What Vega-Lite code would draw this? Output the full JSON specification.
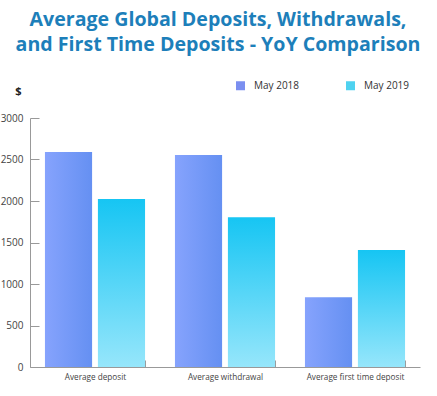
{
  "$schema": "https://vega.github.io/schema/vega-lite/v6.json",
  "width": 390,
  "height": 249,
  "autosize": "none",
  "padding": {"left": 30, "top": 118, "right": 17, "bottom": 29},
  "background": "white",
  "title": {
    "text": ["Average Global Deposits, Withdrawals,", "and First Time Deposits - YoY Comparison"],
    "font": "Open Sans",
    "fontSize": 19.6,
    "fontWeight": "bold",
    "color": "#1d7fba",
    "anchor": "middle",
    "frame": "group",
    "offset": 24,
    "dx": -7,
    "lineHeight": 25
  },
  "config": {
    "view": {"stroke": null},
    "font": "Open Sans"
  },
  "data": {
    "values": [
      {"metric": "Average deposit", "period": "May 2018", "value": 2590},
      {"metric": "Average deposit", "period": "May 2019", "value": 2025},
      {"metric": "Average withdrawal", "period": "May 2018", "value": 2555},
      {"metric": "Average withdrawal", "period": "May 2019", "value": 1805},
      {"metric": "Average first time deposit", "period": "May 2018", "value": 840},
      {"metric": "Average first time deposit", "period": "May 2019", "value": 1410}
    ]
  },
  "encoding": {
    "x": {
      "field": "metric",
      "type": "nominal",
      "sort": ["Average deposit", "Average withdrawal", "Average first time deposit"],
      "scale": {"paddingInner": 0.23, "paddingOuter": 0.115},
      "axis": {
        "title": null,
        "labelAngle": 0,
        "labelFontSize": 8.2,
        "labelColor": "#444",
        "labelPadding": 13,
        "tickBand": "extent",
        "tickSize": -7,
        "tickColor": "#999",
        "domainColor": "#999"
      }
    },
    "xOffset": {
      "field": "period",
      "type": "nominal",
      "scale": {"domain": ["May 2018", "May 2019"], "paddingInner": 0.11}
    },
    "y": {
      "field": "value",
      "type": "quantitative",
      "scale": {"domain": [0, 3000]},
      "axis": {
        "values": [0, 500, 1000, 1500, 2000, 2500, 3000],
        "format": "d",
        "title": "$",
        "titleAngle": 0,
        "titleX": -12,
        "titleY": -22,
        "titleFontSize": 11,
        "titleFontWeight": "bold",
        "titleColor": "#222",
        "grid": false,
        "labelFontSize": 10,
        "labelColor": "#444",
        "tickSize": -9,
        "tickColor": "#999",
        "domainColor": "#999",
        "labelPadding": 16
      }
    }
  },
  "layer": [
    {
      "mark": {"type": "bar", "opacity": 0},
      "encoding": {
        "color": {
          "field": "period",
          "type": "nominal",
          "scale": {"domain": ["May 2018", "May 2019"], "range": ["#7b8ff0", "#4fd2f0"]},
          "legend": {
            "title": null,
            "orient": "none",
            "legendX": 205,
            "legendY": -38,
            "direction": "horizontal",
            "symbolType": "square",
            "symbolSize": 81,
            "symbolOpacity": 1,
            "labelFontSize": 10,
            "labelColor": "#333",
            "columnPadding": 45,
            "labelOffset": 8
          }
        }
      }
    },
    {
      "transform": [{"filter": "datum.period === 'May 2018'"}],
      "mark": {
        "type": "bar",
        "color": {
          "gradient": "linear",
          "x1": 0, "x2": 1, "y1": 0, "y2": 0,
          "stops": [{"offset": 0, "color": "#86a3fd"}, {"offset": 1, "color": "#6590f2"}]
        }
      }
    },
    {
      "transform": [{"filter": "datum.period === 'May 2019'"}],
      "mark": {
        "type": "bar",
        "color": {
          "gradient": "linear",
          "x1": 0, "x2": 0, "y1": 0, "y2": 1,
          "stops": [{"offset": 0, "color": "#16c5f3"}, {"offset": 1, "color": "#96e6fb"}]
        }
      }
    }
  ]
}
